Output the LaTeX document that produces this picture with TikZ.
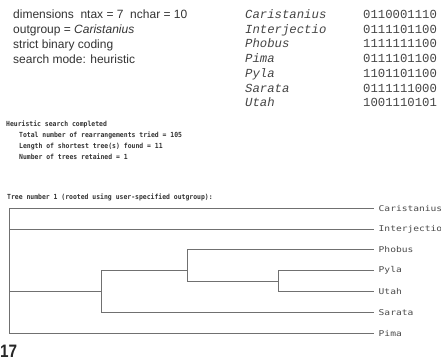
\documentclass[tikz,border=0pt]{standalone}
\usepackage{fontspec}
\setmainfont{Liberation Sans}
\newfontfamily\codefont{Liberation Mono}
\newfontfamily\pixfont{DejaVu Sans Mono}[FakeStretch=0.92]
\newfontfamily\labfont{DejaVu Sans Mono}[FakeStretch=1.2]
\definecolor{txt}{HTML}{333333}
\definecolor{codec}{HTML}{444444}
\definecolor{treec}{HTML}{707070}
\definecolor{labc}{HTML}{4A4A4A}
\tikzset{
  info/.style={anchor=base west, inner sep=0pt, text=txt, font=\fontsize{12}{14}\selectfont},
  taxon/.style={anchor=base west, inner sep=0pt, text=codec, font=\codefont\itshape\fontsize{12.3}{14}\selectfont},
  code/.style={anchor=base west, inner sep=0pt, text=codec, font=\codefont\fontsize{12.3}{14}\selectfont},
  pix/.style={anchor=base west, inner sep=0pt, text=txt, font=\pixfont\bfseries\fontsize{7}{8}\selectfont},
  leaf/.style={anchor=west, inner xsep=5.5pt, inner ysep=0pt, text=labc, font=\labfont\fontsize{8}{9}\selectfont},
  branch/.style={draw=treec, line width=1.5pt, line cap=rect},
}
\begin{document}
\begin{tikzpicture}[x=1pt,y=-1pt]
\useasboundingbox (0,0) rectangle (441,360);
% header, left
\node[info] (i1) at (13,18.5) {dimensions\ \ ntax = 7\ \ nchar = 10};
\node[info] (i2) at (13,33.5) {outgroup = \textit{Caristanius}};
\node[info] (i3) at (13,48.5) {strict binary coding};
\node[info] (i4) at (13,63.5) {search mode: heuristic};
% data matrix
\node[taxon] (t1) at (245,18.5) {Caristanius};
\node[taxon] (t2) at (245,33.2) {Interjectio};
\node[taxon] (t3) at (245,47.9) {Phobus};
\node[taxon] (t4) at (245,62.6) {Pima};
\node[taxon] (t5) at (245,77.3) {Pyla};
\node[taxon] (t6) at (245,92.0) {Sarata};
\node[taxon] (t7) at (245,106.7) {Utah};
\node[code] (c1) at (363,18.5) {0110001110};
\node[code] (c2) at (363,33.2) {0111101100};
\node[code] (c3) at (363,47.9) {1111111100};
\node[code] (c4) at (363,62.6) {0111101100};
\node[code] (c5) at (363,77.3) {1101101100};
\node[code] (c6) at (363,92.0) {0111111000};
\node[code] (c7) at (363,106.7) {1001110101};
% search report
\node[pix] (h1) at (6,126.5) {Heuristic search completed};
\node[pix] (h2) at (19,137.5) {Total number of rearrangements tried = 105};
\node[pix] (h3) at (19,148.5) {Length of shortest tree(s) found = 11};
\node[pix] (h4) at (19,159.0) {Number of trees retained = 1};
\node[pix] (h5) at (7,199.5) {Tree number 1 (rooted using user-specified outgroup):};
% tree leaves
\node[leaf] (Car) at (373,208.5) {Caristanius};
\node[leaf] (Int) at (373,229.5) {Interjectio};
\node[leaf] (Pho) at (373,249.5) {Phobus};
\node[leaf] (Pyl) at (373,270.5) {Pyla};
\node[leaf] (Uta) at (373,291.5) {Utah};
\node[leaf] (Sar) at (373,312.5) {Sarata};
\node[leaf] (Pim) at (373,333.5) {Pima};
% internal nodes
\coordinate (root) at (9.5,291.5);
\coordinate (A) at (101.5,291.5);
\coordinate (B) at (187.5,270.5);
\coordinate (C) at (278.5,281.5);
% branches
\draw[branch] (Car.west) -| (root |- Pim.west) -- (Pim.west);
\draw[branch] (root |- Int.west) -- (Int.west);
\draw[branch] (root) -- (A);
\draw[branch] (Sar.west) -| (A |- B) -- (B);
\draw[branch] (Pho.west) -| (B |- C) -- (C);
\draw[branch] (Pyl.west) -| (C |- Uta.west) -- (Uta.west);
% figure number
\node[anchor=base west, inner sep=0pt, text=black!85, font=\bfseries\fontsize{18}{20}\selectfont] (fig) at (0,357) {\scalebox{0.85}[1]{17}};
\end{tikzpicture}
\end{document}
